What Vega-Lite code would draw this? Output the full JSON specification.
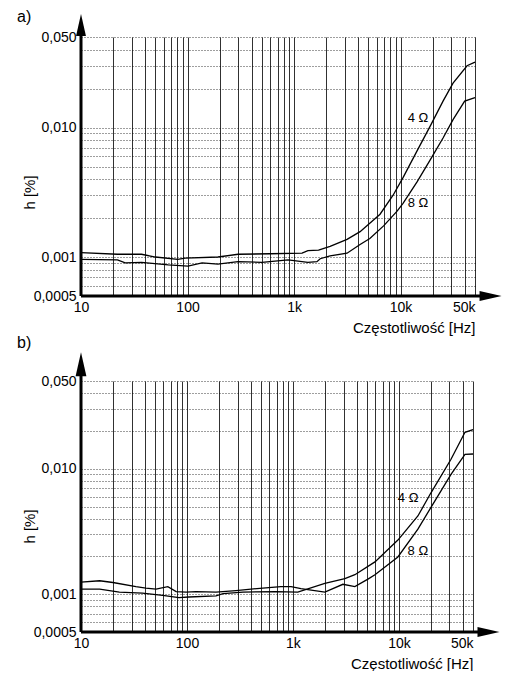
{
  "$schema": "https://vega.github.io/schema/vega-lite/v6.json",
  "background": "white",
  "padding": {"left": 17, "top": 8, "right": 0, "bottom": 0},
  "spacing": 0,
  "config": {
    "view": {"stroke": null},
    "font": "Liberation Sans",
    "title": {"font": "Liberation Sans", "fontWeight": "normal", "fontSize": 16, "color": "black", "anchor": "start"}
  },
  "datasets": {
    "curves": [
      {"panel": "a", "imp": "4", "f": 10, "h": 0.00108},
      {"panel": "a", "imp": "4", "f": 22, "h": 0.00105},
      {"panel": "a", "imp": "4", "f": 37, "h": 0.00105},
      {"panel": "a", "imp": "4", "f": 50, "h": 0.00100},
      {"panel": "a", "imp": "4", "f": 81, "h": 0.00096},
      {"panel": "a", "imp": "4", "f": 95, "h": 0.00098},
      {"panel": "a", "imp": "4", "f": 193, "h": 0.00100},
      {"panel": "a", "imp": "4", "f": 298, "h": 0.00105},
      {"panel": "a", "imp": "4", "f": 600, "h": 0.00106},
      {"panel": "a", "imp": "4", "f": 1190, "h": 0.00107},
      {"panel": "a", "imp": "4", "f": 1350, "h": 0.00112},
      {"panel": "a", "imp": "4", "f": 1700, "h": 0.00113},
      {"panel": "a", "imp": "4", "f": 2180, "h": 0.00121},
      {"panel": "a", "imp": "4", "f": 3145, "h": 0.00137},
      {"panel": "a", "imp": "4", "f": 4170, "h": 0.00157},
      {"panel": "a", "imp": "4", "f": 6420, "h": 0.00214},
      {"panel": "a", "imp": "4", "f": 8510, "h": 0.0030},
      {"panel": "a", "imp": "4", "f": 10550, "h": 0.0041},
      {"panel": "a", "imp": "4", "f": 14290, "h": 0.0066},
      {"panel": "a", "imp": "4", "f": 18930, "h": 0.0102},
      {"panel": "a", "imp": "4", "f": 25060, "h": 0.016},
      {"panel": "a", "imp": "4", "f": 31100, "h": 0.022},
      {"panel": "a", "imp": "4", "f": 42100, "h": 0.030},
      {"panel": "a", "imp": "4", "f": 50000, "h": 0.032},
      {"panel": "a", "imp": "8", "f": 10, "h": 0.00096},
      {"panel": "a", "imp": "8", "f": 22, "h": 0.00095},
      {"panel": "a", "imp": "8", "f": 26, "h": 0.00090},
      {"panel": "a", "imp": "8", "f": 37, "h": 0.00091},
      {"panel": "a", "imp": "8", "f": 66, "h": 0.00087},
      {"panel": "a", "imp": "8", "f": 101, "h": 0.00085},
      {"panel": "a", "imp": "8", "f": 137, "h": 0.00090},
      {"panel": "a", "imp": "8", "f": 193, "h": 0.00088},
      {"panel": "a", "imp": "8", "f": 298, "h": 0.00092},
      {"panel": "a", "imp": "8", "f": 500, "h": 0.00091},
      {"panel": "a", "imp": "8", "f": 880, "h": 0.00095},
      {"panel": "a", "imp": "8", "f": 1350, "h": 0.00091},
      {"panel": "a", "imp": "8", "f": 1640, "h": 0.00092},
      {"panel": "a", "imp": "8", "f": 1760, "h": 0.00097},
      {"panel": "a", "imp": "8", "f": 2180, "h": 0.00102},
      {"panel": "a", "imp": "8", "f": 3145, "h": 0.00107},
      {"panel": "a", "imp": "8", "f": 4170, "h": 0.00125},
      {"panel": "a", "imp": "8", "f": 5150, "h": 0.00139},
      {"panel": "a", "imp": "8", "f": 6930, "h": 0.00174},
      {"panel": "a", "imp": "8", "f": 9280, "h": 0.00226},
      {"panel": "a", "imp": "8", "f": 10550, "h": 0.0026},
      {"panel": "a", "imp": "8", "f": 14290, "h": 0.0038},
      {"panel": "a", "imp": "8", "f": 18930, "h": 0.0056},
      {"panel": "a", "imp": "8", "f": 25060, "h": 0.0083},
      {"panel": "a", "imp": "8", "f": 31100, "h": 0.0115},
      {"panel": "a", "imp": "8", "f": 40000, "h": 0.016},
      {"panel": "a", "imp": "8", "f": 50000, "h": 0.017},
      {"panel": "b", "imp": "8", "f": 10, "h": 0.00125},
      {"panel": "b", "imp": "8", "f": 15, "h": 0.00128},
      {"panel": "b", "imp": "8", "f": 20, "h": 0.00124},
      {"panel": "b", "imp": "8", "f": 33, "h": 0.00115},
      {"panel": "b", "imp": "8", "f": 41, "h": 0.00112},
      {"panel": "b", "imp": "8", "f": 51, "h": 0.00110},
      {"panel": "b", "imp": "8", "f": 66, "h": 0.00115},
      {"panel": "b", "imp": "8", "f": 79, "h": 0.00105},
      {"panel": "b", "imp": "8", "f": 98, "h": 0.00104},
      {"panel": "b", "imp": "8", "f": 122, "h": 0.00105},
      {"panel": "b", "imp": "8", "f": 188, "h": 0.00104},
      {"panel": "b", "imp": "8", "f": 290, "h": 0.00107},
      {"panel": "b", "imp": "8", "f": 520, "h": 0.00112},
      {"panel": "b", "imp": "8", "f": 770, "h": 0.00115},
      {"panel": "b", "imp": "8", "f": 960, "h": 0.00115},
      {"panel": "b", "imp": "8", "f": 1190, "h": 0.00111},
      {"panel": "b", "imp": "8", "f": 2000, "h": 0.00104},
      {"panel": "b", "imp": "8", "f": 2960, "h": 0.00120},
      {"panel": "b", "imp": "8", "f": 3840, "h": 0.00115},
      {"panel": "b", "imp": "8", "f": 5100, "h": 0.00132},
      {"panel": "b", "imp": "8", "f": 5940, "h": 0.00143},
      {"panel": "b", "imp": "8", "f": 9780, "h": 0.00198},
      {"panel": "b", "imp": "8", "f": 15100, "h": 0.0033},
      {"panel": "b", "imp": "8", "f": 20000, "h": 0.0049},
      {"panel": "b", "imp": "8", "f": 31000, "h": 0.0090},
      {"panel": "b", "imp": "8", "f": 42000, "h": 0.0130},
      {"panel": "b", "imp": "8", "f": 50000, "h": 0.0131},
      {"panel": "b", "imp": "4", "f": 10, "h": 0.00110},
      {"panel": "b", "imp": "4", "f": 15, "h": 0.00110},
      {"panel": "b", "imp": "4", "f": 23, "h": 0.00104},
      {"panel": "b", "imp": "4", "f": 38, "h": 0.00102},
      {"panel": "b", "imp": "4", "f": 59, "h": 0.00098},
      {"panel": "b", "imp": "4", "f": 84, "h": 0.00094},
      {"panel": "b", "imp": "4", "f": 104, "h": 0.00095},
      {"panel": "b", "imp": "4", "f": 188, "h": 0.00097},
      {"panel": "b", "imp": "4", "f": 219, "h": 0.00101},
      {"panel": "b", "imp": "4", "f": 338, "h": 0.00104},
      {"panel": "b", "imp": "4", "f": 690, "h": 0.00105},
      {"panel": "b", "imp": "4", "f": 1110, "h": 0.00104},
      {"panel": "b", "imp": "4", "f": 2000, "h": 0.00122},
      {"panel": "b", "imp": "4", "f": 3090, "h": 0.00133},
      {"panel": "b", "imp": "4", "f": 3840, "h": 0.00143},
      {"panel": "b", "imp": "4", "f": 5940, "h": 0.00181},
      {"panel": "b", "imp": "4", "f": 9780, "h": 0.0027},
      {"panel": "b", "imp": "4", "f": 15100, "h": 0.0042},
      {"panel": "b", "imp": "4", "f": 20000, "h": 0.0064},
      {"panel": "b", "imp": "4", "f": 31000, "h": 0.0119},
      {"panel": "b", "imp": "4", "f": 42000, "h": 0.0195},
      {"panel": "b", "imp": "4", "f": 50000, "h": 0.0205}
    ],
    "labels": [
      {"panel": "a", "f": 14600, "h": 0.0118, "label": "4 Ω"},
      {"panel": "a", "f": 14600, "h": 0.0026, "label": "8 Ω"},
      {"panel": "b", "f": 12200, "h": 0.0058, "label": "4 Ω"},
      {"panel": "b", "f": 15100, "h": 0.0022, "label": "8 Ω"}
    ]
  },
  "vconcat": [
    {
      "title": {"text": "a)", "dx": -5, "offset": -11},
      "width": 394,
      "height": 259,
      "layer": [
        {
          "data": {"name": "curves"},
          "transform": [{"filter": "datum.panel == 'a'"}],
          "mark": {"type": "line", "color": "black", "strokeWidth": 1.3},
          "encoding": {
            "x": {"field": "f", "type": "quantitative",
              "scale": {"type": "log", "domain": [10, 50000], "nice": false},
              "axis": {
                "title": "Częstotliwość [Hz]",
                "values": [10,20,30,40,50,60,70,80,90,100,200,300,400,500,600,700,800,900,1000,2000,3000,4000,5000,6000,7000,8000,9000,10000,20000,30000,40000,50000],
                "labelExpr": "indexof([10,100,1000,10000,50000], datum.value) < 0 ? '' : (datum.value >= 1000 ? (datum.value/1000) + 'k' : '' + datum.value)",
                "grid": true, "gridColor": "#1a1a1a", "gridWidth": 0.9, "gridOpacity": 1,
                "ticks": false, "domain": false, "labelFlush": false, "labelOverlap": false,
                "labelFont": "Liberation Sans", "labelFontSize": 14, "labelPadding": 4, "labelColor": "black",
                "labelAlign": {"condition": {"test": "datum.value == 50000", "value": "right"}, "value": "center"},
                "titleAnchor": "end", "titleFont": "Liberation Sans", "titleFontSize": 15, "titleFontWeight": "normal", "titlePadding": 6, "titleColor": "black"
              }
            },
            "y": {"field": "h", "type": "quantitative",
              "scale": {"type": "log", "domain": [0.0005, 0.05], "nice": false},
              "axis": {
                "title": "h [%]",
                "values": [0.0005,0.0006,0.0007,0.0008,0.0009,0.001,0.002,0.003,0.004,0.005,0.006,0.007,0.008,0.009,0.01,0.02,0.03,0.04,0.05],
                "labelExpr": "datum.value == 0.0005 ? '0,0005' : ((datum.value == 0.001 || datum.value == 0.01 || datum.value == 0.05) ? replace(format(datum.value, '.3f'), '.', ',') : '')",
                "grid": true, "gridColor": "black", "gridWidth": 0.9, "gridDash": [1, 2], "gridOpacity": 0.85,
                "ticks": false, "domain": false, "labelFlush": false, "labelOverlap": false,
                "labelFont": "Liberation Sans", "labelFontSize": 14, "labelPadding": 5, "labelColor": "black",
                "titleFont": "Liberation Sans", "titleFontSize": 15, "titleFontWeight": "normal", "titleColor": "black",
                "titleX": -44, "titleY": 155
              }
            },
            "detail": {"field": "imp"}
          }
        },
        {
          "data": {"name": "labels"},
          "transform": [{"filter": "datum.panel == 'a'"}],
          "mark": {"type": "text", "fontSize": 13, "font": "Liberation Sans", "color": "black"},
          "encoding": {
            "x": {"field": "f", "type": "quantitative", "scale": {"type": "log", "domain": [10, 50000], "nice": false}},
            "y": {"field": "h", "type": "quantitative", "scale": {"type": "log", "domain": [0.0005, 0.05], "nice": false}},
            "text": {"field": "label"}
          }
        },
        {
          "data": {"values": [{}]},
          "mark": {"type": "rule", "color": "black", "strokeWidth": 3},
          "encoding": {
            "x": {"datum": 10, "type": "quantitative", "scale": {"type": "log", "domain": [10, 50000], "nice": false}},
            "y": {"datum": 0.0005, "type": "quantitative", "scale": {"type": "log", "domain": [0.0005, 0.05], "nice": false}},
            "y2": {"datum": 0.062}
          }
        },
        {
          "data": {"values": [{}]},
          "mark": {"type": "rule", "color": "black", "strokeWidth": 3},
          "encoding": {
            "x": {"datum": 10, "type": "quantitative", "scale": {"type": "log", "domain": [10, 50000], "nice": false}},
            "x2": {"datum": 70000},
            "y": {"datum": 0.0005, "type": "quantitative", "scale": {"type": "log", "domain": [0.0005, 0.05], "nice": false}}
          }
        },
        {
          "data": {"values": [{}]},
          "mark": {"type": "point", "shape": "M0,-1L0.45,1L-0.45,1Z", "filled": true, "color": "black", "opacity": 1, "size": 484},
          "encoding": {
            "x": {"datum": 10, "type": "quantitative", "scale": {"type": "log", "domain": [10, 50000], "nice": false}},
            "y": {"datum": 0.062, "type": "quantitative", "scale": {"type": "log", "domain": [0.0005, 0.05], "nice": false}}
          }
        },
        {
          "data": {"values": [{}]},
          "mark": {"type": "point", "shape": "M1,0L-1,0.45L-1,-0.45Z", "filled": true, "color": "black", "opacity": 1, "size": 484},
          "encoding": {
            "x": {"datum": 70000, "type": "quantitative", "scale": {"type": "log", "domain": [10, 50000], "nice": false}},
            "y": {"datum": 0.0005, "type": "quantitative", "scale": {"type": "log", "domain": [0.0005, 0.05], "nice": false}}
          }
        }
      ]
    },
    {
      "title": {"text": "b)", "dx": -5, "offset": 1},
      "width": 392,
      "height": 251,
      "layer": [
        {
          "data": {"name": "curves"},
          "transform": [{"filter": "datum.panel == 'b'"}],
          "mark": {"type": "line", "color": "black", "strokeWidth": 1.3},
          "encoding": {
            "x": {"field": "f", "type": "quantitative",
              "scale": {"type": "log", "domain": [10, 50000], "nice": false},
              "axis": {
                "title": "Częstotliwość [Hz]",
                "values": [10,20,30,40,50,60,70,80,90,100,200,300,400,500,600,700,800,900,1000,2000,3000,4000,5000,6000,7000,8000,9000,10000,20000,30000,40000,50000],
                "labelExpr": "indexof([10,100,1000,10000,50000], datum.value) < 0 ? '' : (datum.value >= 1000 ? (datum.value/1000) + 'k' : '' + datum.value)",
                "grid": true, "gridColor": "#1a1a1a", "gridWidth": 0.9, "gridOpacity": 1,
                "ticks": false, "domain": false, "labelFlush": false, "labelOverlap": false,
                "labelFont": "Liberation Sans", "labelFontSize": 14, "labelPadding": 4, "labelColor": "black",
                "labelAlign": {"condition": {"test": "datum.value == 50000", "value": "right"}, "value": "center"},
                "titleAnchor": "end", "titleFont": "Liberation Sans", "titleFontSize": 15, "titleFontWeight": "normal", "titlePadding": 6, "titleColor": "black"
              }
            },
            "y": {"field": "h", "type": "quantitative",
              "scale": {"type": "log", "domain": [0.0005, 0.05], "nice": false},
              "axis": {
                "title": "h [%]",
                "values": [0.0005,0.0006,0.0007,0.0008,0.0009,0.001,0.002,0.003,0.004,0.005,0.006,0.007,0.008,0.009,0.01,0.02,0.03,0.04,0.05],
                "labelExpr": "datum.value == 0.0005 ? '0,0005' : ((datum.value == 0.001 || datum.value == 0.01 || datum.value == 0.05) ? replace(format(datum.value, '.3f'), '.', ',') : '')",
                "grid": true, "gridColor": "black", "gridWidth": 0.9, "gridDash": [1, 2], "gridOpacity": 0.85,
                "ticks": false, "domain": false, "labelFlush": false, "labelOverlap": false,
                "labelFont": "Liberation Sans", "labelFontSize": 14, "labelPadding": 5, "labelColor": "black",
                "titleFont": "Liberation Sans", "titleFontSize": 15, "titleFontWeight": "normal", "titleColor": "black",
                "titleX": -44, "titleY": 145
              }
            },
            "detail": {"field": "imp"}
          }
        },
        {
          "data": {"name": "labels"},
          "transform": [{"filter": "datum.panel == 'b'"}],
          "mark": {"type": "text", "fontSize": 13, "font": "Liberation Sans", "color": "black"},
          "encoding": {
            "x": {"field": "f", "type": "quantitative", "scale": {"type": "log", "domain": [10, 50000], "nice": false}},
            "y": {"field": "h", "type": "quantitative", "scale": {"type": "log", "domain": [0.0005, 0.05], "nice": false}},
            "text": {"field": "label"}
          }
        },
        {
          "data": {"values": [{}]},
          "mark": {"type": "rule", "color": "black", "strokeWidth": 3},
          "encoding": {
            "x": {"datum": 10, "type": "quantitative", "scale": {"type": "log", "domain": [10, 50000], "nice": false}},
            "y": {"datum": 0.0005, "type": "quantitative", "scale": {"type": "log", "domain": [0.0005, 0.05], "nice": false}},
            "y2": {"datum": 0.068}
          }
        },
        {
          "data": {"values": [{}]},
          "mark": {"type": "rule", "color": "black", "strokeWidth": 3},
          "encoding": {
            "x": {"datum": 10, "type": "quantitative", "scale": {"type": "log", "domain": [10, 50000], "nice": false}},
            "x2": {"datum": 70000},
            "y": {"datum": 0.0005, "type": "quantitative", "scale": {"type": "log", "domain": [0.0005, 0.05], "nice": false}}
          }
        },
        {
          "data": {"values": [{}]},
          "mark": {"type": "point", "shape": "M0,-1L0.45,1L-0.45,1Z", "filled": true, "color": "black", "opacity": 1, "size": 576},
          "encoding": {
            "x": {"datum": 10, "type": "quantitative", "scale": {"type": "log", "domain": [10, 50000], "nice": false}},
            "y": {"datum": 0.068, "type": "quantitative", "scale": {"type": "log", "domain": [0.0005, 0.05], "nice": false}}
          }
        },
        {
          "data": {"values": [{}]},
          "mark": {"type": "point", "shape": "M1,0L-1,0.45L-1,-0.45Z", "filled": true, "color": "black", "opacity": 1, "size": 484},
          "encoding": {
            "x": {"datum": 70000, "type": "quantitative", "scale": {"type": "log", "domain": [10, 50000], "nice": false}},
            "y": {"datum": 0.0005, "type": "quantitative", "scale": {"type": "log", "domain": [0.0005, 0.05], "nice": false}}
          }
        }
      ]
    }
  ]
}
